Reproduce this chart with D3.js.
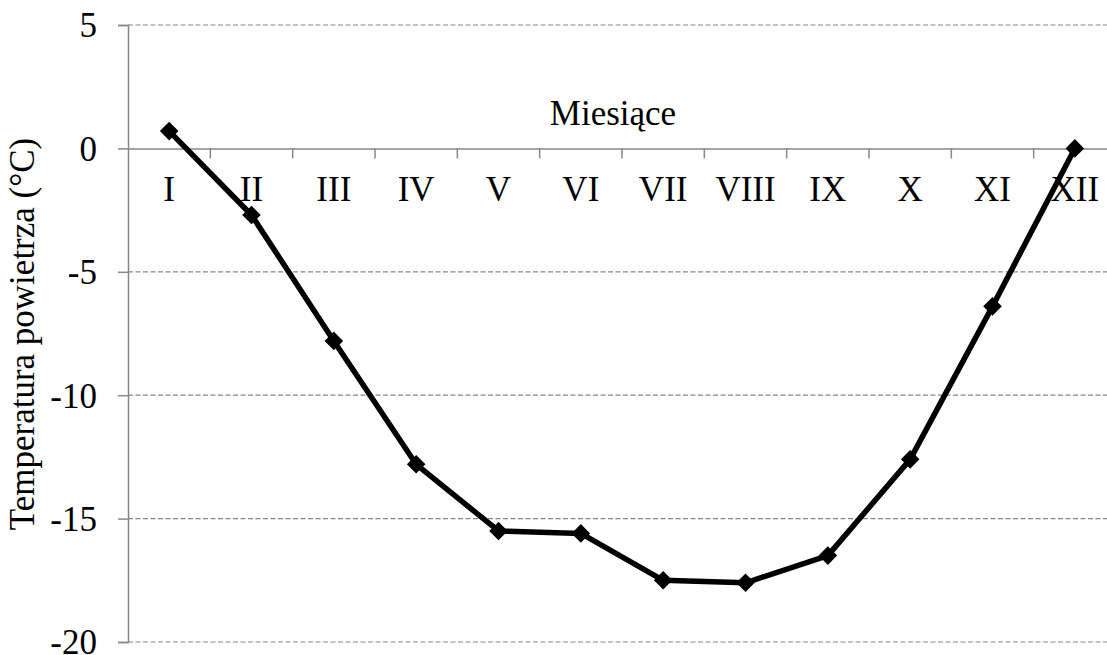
<!DOCTYPE html>
<html>
<head>
<meta charset="utf-8">
<script src="https://cdn.jsdelivr.net/npm/d3@7"></script>
<style>
    body { margin: 0; background: #fff; }
    svg { display: block; overflow: hidden; }
    text { font-family: 'Liberation Serif', 'Times New Roman', serif; fill: #000; }
</style>
</head>
<body>
<div class="line-chart-container"></div>
<script>
// data
const months = ['I', 'II', 'III', 'IV', 'V', 'VI', 'VII', 'VIII', 'IX', 'X', 'XI', 'XII'];
const temperatures = [0.7, -2.7, -7.8, -12.8, -15.5, -15.6, -17.5, -17.6, -16.5, -12.6, -6.4, 0.0];
const yTicks = [5, 0, -5, -10, -15, -20];

const svg_width = 1107;
const svg_height = 655;
const chart_margin = {
    top: 25,
    right: -9,
    bottom: 13,
    left: 128
};
const chart_width = svg_width - (chart_margin.left + chart_margin.right);
const chart_height = svg_height - (chart_margin.top + chart_margin.bottom);
const grey = '#878787';
const serif = "'Liberation Serif', 'Times New Roman', serif";

const this_svg = d3.select('.line-chart-container')
    .append('svg')
    .attr('width', svg_width)
    .attr('height', svg_height)
    .append('g')
    .attr('transform', `translate(${chart_margin.left},${chart_margin.top})`);

const xScale = d3.scaleBand()
    .domain(months)
    .range([0, chart_width]);
const yScale = d3.scaleLinear([-20, 5], [chart_height, 0]);

//gridlines
this_svg.append('g')
    .attr('class', 'grid')
    .selectAll('line')
    .data(yTicks.filter(d => d !== 0))
    .enter()
    .append('line')
    .attr('x1', 0)
    .attr('x2', chart_width)
    .attr('y1', d => yScale(d))
    .attr('y2', d => yScale(d))
    .style('stroke', grey)
    .style('stroke-width', 1.2)
    .style('stroke-dasharray', '5,2.5');

//y axis
const yAxis = d3.axisLeft(yScale)
    .tickValues(yTicks)
    .tickSize(10)
    .tickPadding(21)
    .tickFormat(d3.format('d'));
const yAxisDraw = this_svg.append('g')
    .attr('class', 'y axis')
    .attr('font-family', serif)
    .call(yAxis);
yAxisDraw.select('.domain').style('stroke', grey).style('stroke-width', 1.5);
yAxisDraw.selectAll('.tick line').style('stroke', grey).style('stroke-width', 1.5);
yAxisDraw.selectAll('text')
    .style('font-size', '35px')
    .style('font-family', serif)
    .attr('dy', '0.34em')
    .text(d => d < 0 ? '-' + Math.abs(d) : d);

//x axis at zero
const xAxis = d3.axisBottom(xScale)
    .tickSize(0)
    .tickPadding(28);
const xAxisDraw = this_svg.append('g')
    .attr('class', 'x axis')
    .attr('font-family', serif)
    .attr('transform', `translate(0,${yScale(0)})`)
    .call(xAxis);
xAxisDraw.select('.domain').style('stroke', grey).style('stroke-width', 1.5);
xAxisDraw.selectAll('text')
    .style('font-size', '35px')
    .style('font-family', serif);
xAxisDraw.selectAll('.band-tick')
    .data(months)
    .enter()
    .append('line')
    .attr('class', 'band-tick')
    .attr('x1', (d, i) => xScale.step() * (i + 1))
    .attr('x2', (d, i) => xScale.step() * (i + 1))
    .attr('y1', 0)
    .attr('y2', 10)
    .style('stroke', grey)
    .style('stroke-width', 1.5);

//line
const line = d3.line()
    .x((d, i) => xScale(months[i]) + xScale.bandwidth() / 2)
    .y(d => yScale(d));
this_svg.append('path')
    .datum(temperatures)
    .attr('d', line)
    .style('fill', 'none')
    .style('stroke', '#000')
    .style('stroke-width', 5.5)
    .style('stroke-linejoin', 'round');

//markers
this_svg.selectAll('.marker')
    .data(temperatures)
    .enter()
    .append('path')
    .attr('class', 'marker')
    .attr('d', d3.symbol(d3.symbolDiamond2, 220))
    .attr('transform', (d, i) => `translate(${xScale(months[i]) + xScale.bandwidth() / 2},${yScale(d)})`)
    .style('fill', '#000');

//axis titles
this_svg.append('text')
    .attr('x', 613 - chart_margin.left)
    .attr('y', 125 - chart_margin.top)
    .attr('text-anchor', 'middle')
    .style('font-family', serif)
    .style('font-size', '35px')
    .text('Miesiące');

this_svg.append('text')
    .attr('transform', `translate(${34 - chart_margin.left},${334 - chart_margin.top}) rotate(-90)`)
    .attr('text-anchor', 'middle')
    .style('font-family', serif)
    .style('font-size', '35px')
    .text('Temperatura powietrza (°C)');
</script>
</body>
</html>
